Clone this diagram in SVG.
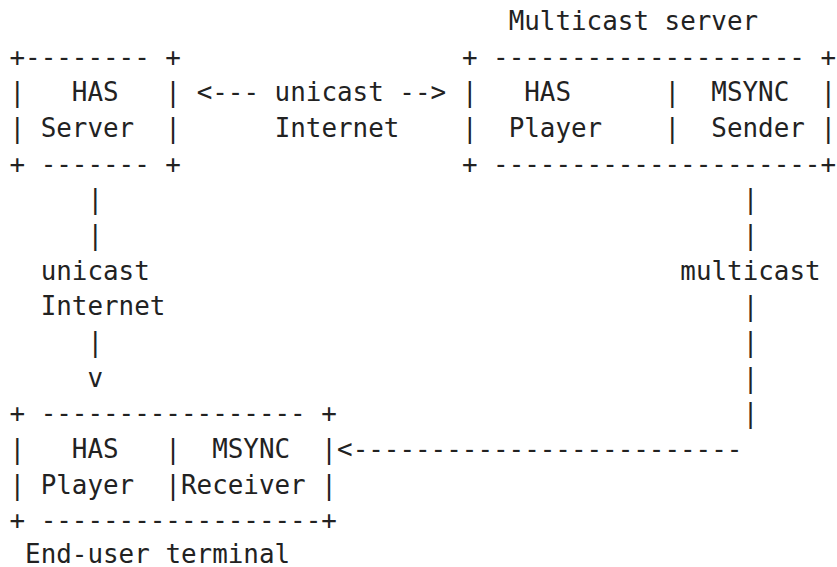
<svg xmlns="http://www.w3.org/2000/svg" width="837" height="567" viewBox="0 0 837 567">
<style>
text{font-family:"DejaVu Sans Mono","Liberation Mono",monospace;font-size:25.9px;fill:#222;white-space:pre}
</style>
<rect width="837" height="567" fill="#fff"/>
<g id="has-server">
<text x="9.5" y="65.7" xml:space="preserve">+-------- +</text>
<text x="9.5" y="101.3" xml:space="preserve">|   HAS   |</text>
<text x="9.5" y="137" xml:space="preserve">| Server  |</text>
<text x="9.5" y="172.7" xml:space="preserve">+ ------- +</text>
</g>
<g id="multicast-server">
<text x="508.7" y="30" xml:space="preserve">Multicast server</text>
<text x="461.9" y="65.7" xml:space="preserve">+ -------------------- +</text>
<text x="461.9" y="101.3" xml:space="preserve">|   HAS      |  MSYNC  |</text>
<text x="461.9" y="137" xml:space="preserve">|  Player    |  Sender |</text>
<text x="461.9" y="172.7" xml:space="preserve">+ ---------------------+</text>
</g>
<g id="end-user-terminal">
<text x="9.5" y="422.3" xml:space="preserve">+ ----------------- +</text>
<text x="9.5" y="458" xml:space="preserve">|   HAS   |  MSYNC  |</text>
<text x="9.5" y="493.7" xml:space="preserve">| Player  |Receiver |</text>
<text x="9.5" y="529.3" xml:space="preserve">+ ------------------+</text>
<text x="25.1" y="562.5" xml:space="preserve">End-user terminal</text>
</g>
<g id="connectors">
<text x="196.7" y="101.3" xml:space="preserve">&lt;--- unicast --&gt;</text>
<text x="274.7" y="137" xml:space="preserve">Internet</text>
<text x="87.5" y="208.3">|</text>
<text x="87.5" y="244">|</text>
<text x="40.7" y="279.7">unicast</text>
<text x="40.7" y="315.3">Internet</text>
<text x="87.5" y="351">|</text>
<text x="87.5" y="386.7">v</text>
<text x="742.7" y="208.3">|</text>
<text x="742.7" y="244">|</text>
<text x="680.3" y="279.7">multicast</text>
<text x="742.7" y="315.3">|</text>
<text x="742.7" y="351">|</text>
<text x="742.7" y="386.7">|</text>
<text x="742.7" y="422.3">|</text>
<text x="337.1" y="458" xml:space="preserve">&lt;-------------------------</text>
</g>
</svg>
